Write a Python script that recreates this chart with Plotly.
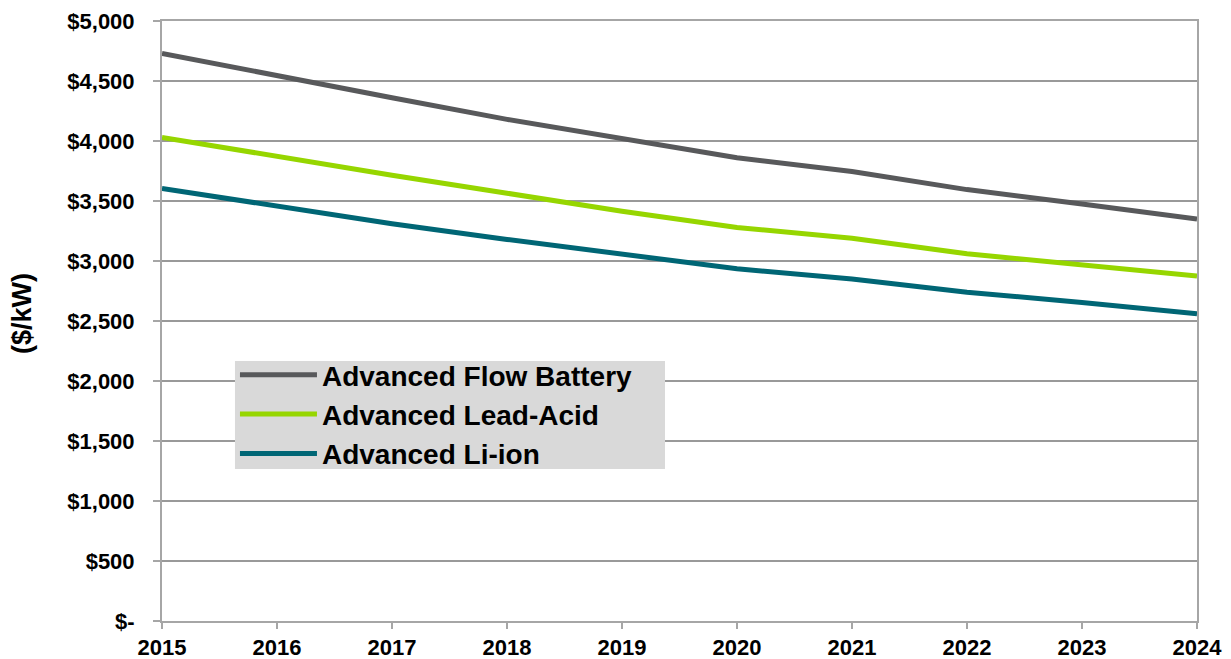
import plotly.graph_objects as go

years = [2015, 2016, 2017, 2018, 2019, 2020, 2021, 2022, 2023, 2024]
flow_battery = [4730, 4540, 4360, 4180, 4015, 3860, 3745, 3595, 3475, 3350]
lead_acid = [4030, 3870, 3715, 3565, 3415, 3280, 3190, 3060, 2965, 2875]
li_ion = [3605, 3460, 3310, 3180, 3060, 2935, 2850, 2740, 2655, 2560]

series_names = ["Advanced Flow Battery", "Advanced Lead-Acid", "Advanced Li-ion"]
series_colors = ["#58595b", "#96d600", "#006675"]

y_tickvals = [0, 500, 1000, 1500, 2000, 2500, 3000, 3500, 4000, 4500, 5000]
y_ticktext = ["$-", "$500", "$1,000", "$1,500", "$2,000", "$2,500", "$3,000",
              "$3,500", "$4,000", "$4,500", "$5,000"]

FONT = "Liberation Sans, Arial, sans-serif"

fig = go.Figure()
for name, vals, col in zip(series_names, [flow_battery, lead_acid, li_ion], series_colors):
    fig.add_trace(go.Scatter(x=years, y=vals, mode="lines", name=name,
                             line=dict(color=col, width=5)))

# page body has an 8px default margin, so the figure is sized/margined to compensate
fig.update_layout(
    width=1223, height=651,
    margin=dict(l=154, r=34, t=13, b=38),
    paper_bgcolor="white", plot_bgcolor="white",
    font=dict(family=FONT, color="black"),
    showlegend=True,
    legend=dict(x=0.0705, y=0.4517, xanchor="left", yanchor="top",
                bgcolor="rgba(0,0,0,0)", borderwidth=0,
                font=dict(family=FONT, size=28, color="black", weight="bold"),
                itemwidth=77, tracegroupgap=0),
    shapes=[dict(type="rect", xref="paper", yref="paper",
                 x0=0.0705, x1=0.486, y0=0.2533, y1=0.4333,
                 fillcolor="#d9d9d9", line=dict(width=0), layer="above")],
    xaxis=dict(range=[2015, 2024], tickvals=years, ticktext=[str(y) for y in years],
               showgrid=False, showline=True, linecolor="#a6a6a6", linewidth=2,
               mirror=True, ticks="outside", ticklen=6, tickcolor="#a6a6a6",
               tickwidth=1.5, ticklabelstandoff=0, automargin=False,
               tickfont=dict(family=FONT, size=22, color="black", weight="bold"),
               zeroline=False),
    yaxis=dict(range=[0, 5000], tickvals=y_tickvals, ticktext=y_ticktext,
               showgrid=True, gridcolor="#999999", gridwidth=2,
               showline=True, linecolor="#a6a6a6", linewidth=2, mirror=True,
               ticks="outside", ticklen=7, tickcolor="#a6a6a6", tickwidth=1.5,
               ticklabelstandoff=14, automargin=False,
               tickfont=dict(family=FONT, size=22, color="black", weight="bold"),
               zeroline=False),
    annotations=[dict(text="($/kW)", textangle=-90, xref="paper", yref="paper",
                      x=-0.135, y=0.512, xanchor="center", yanchor="middle",
                      showarrow=False,
                      font=dict(family=FONT, size=27, color="black", weight="bold"))],
)

fig.write_html("out.html")
